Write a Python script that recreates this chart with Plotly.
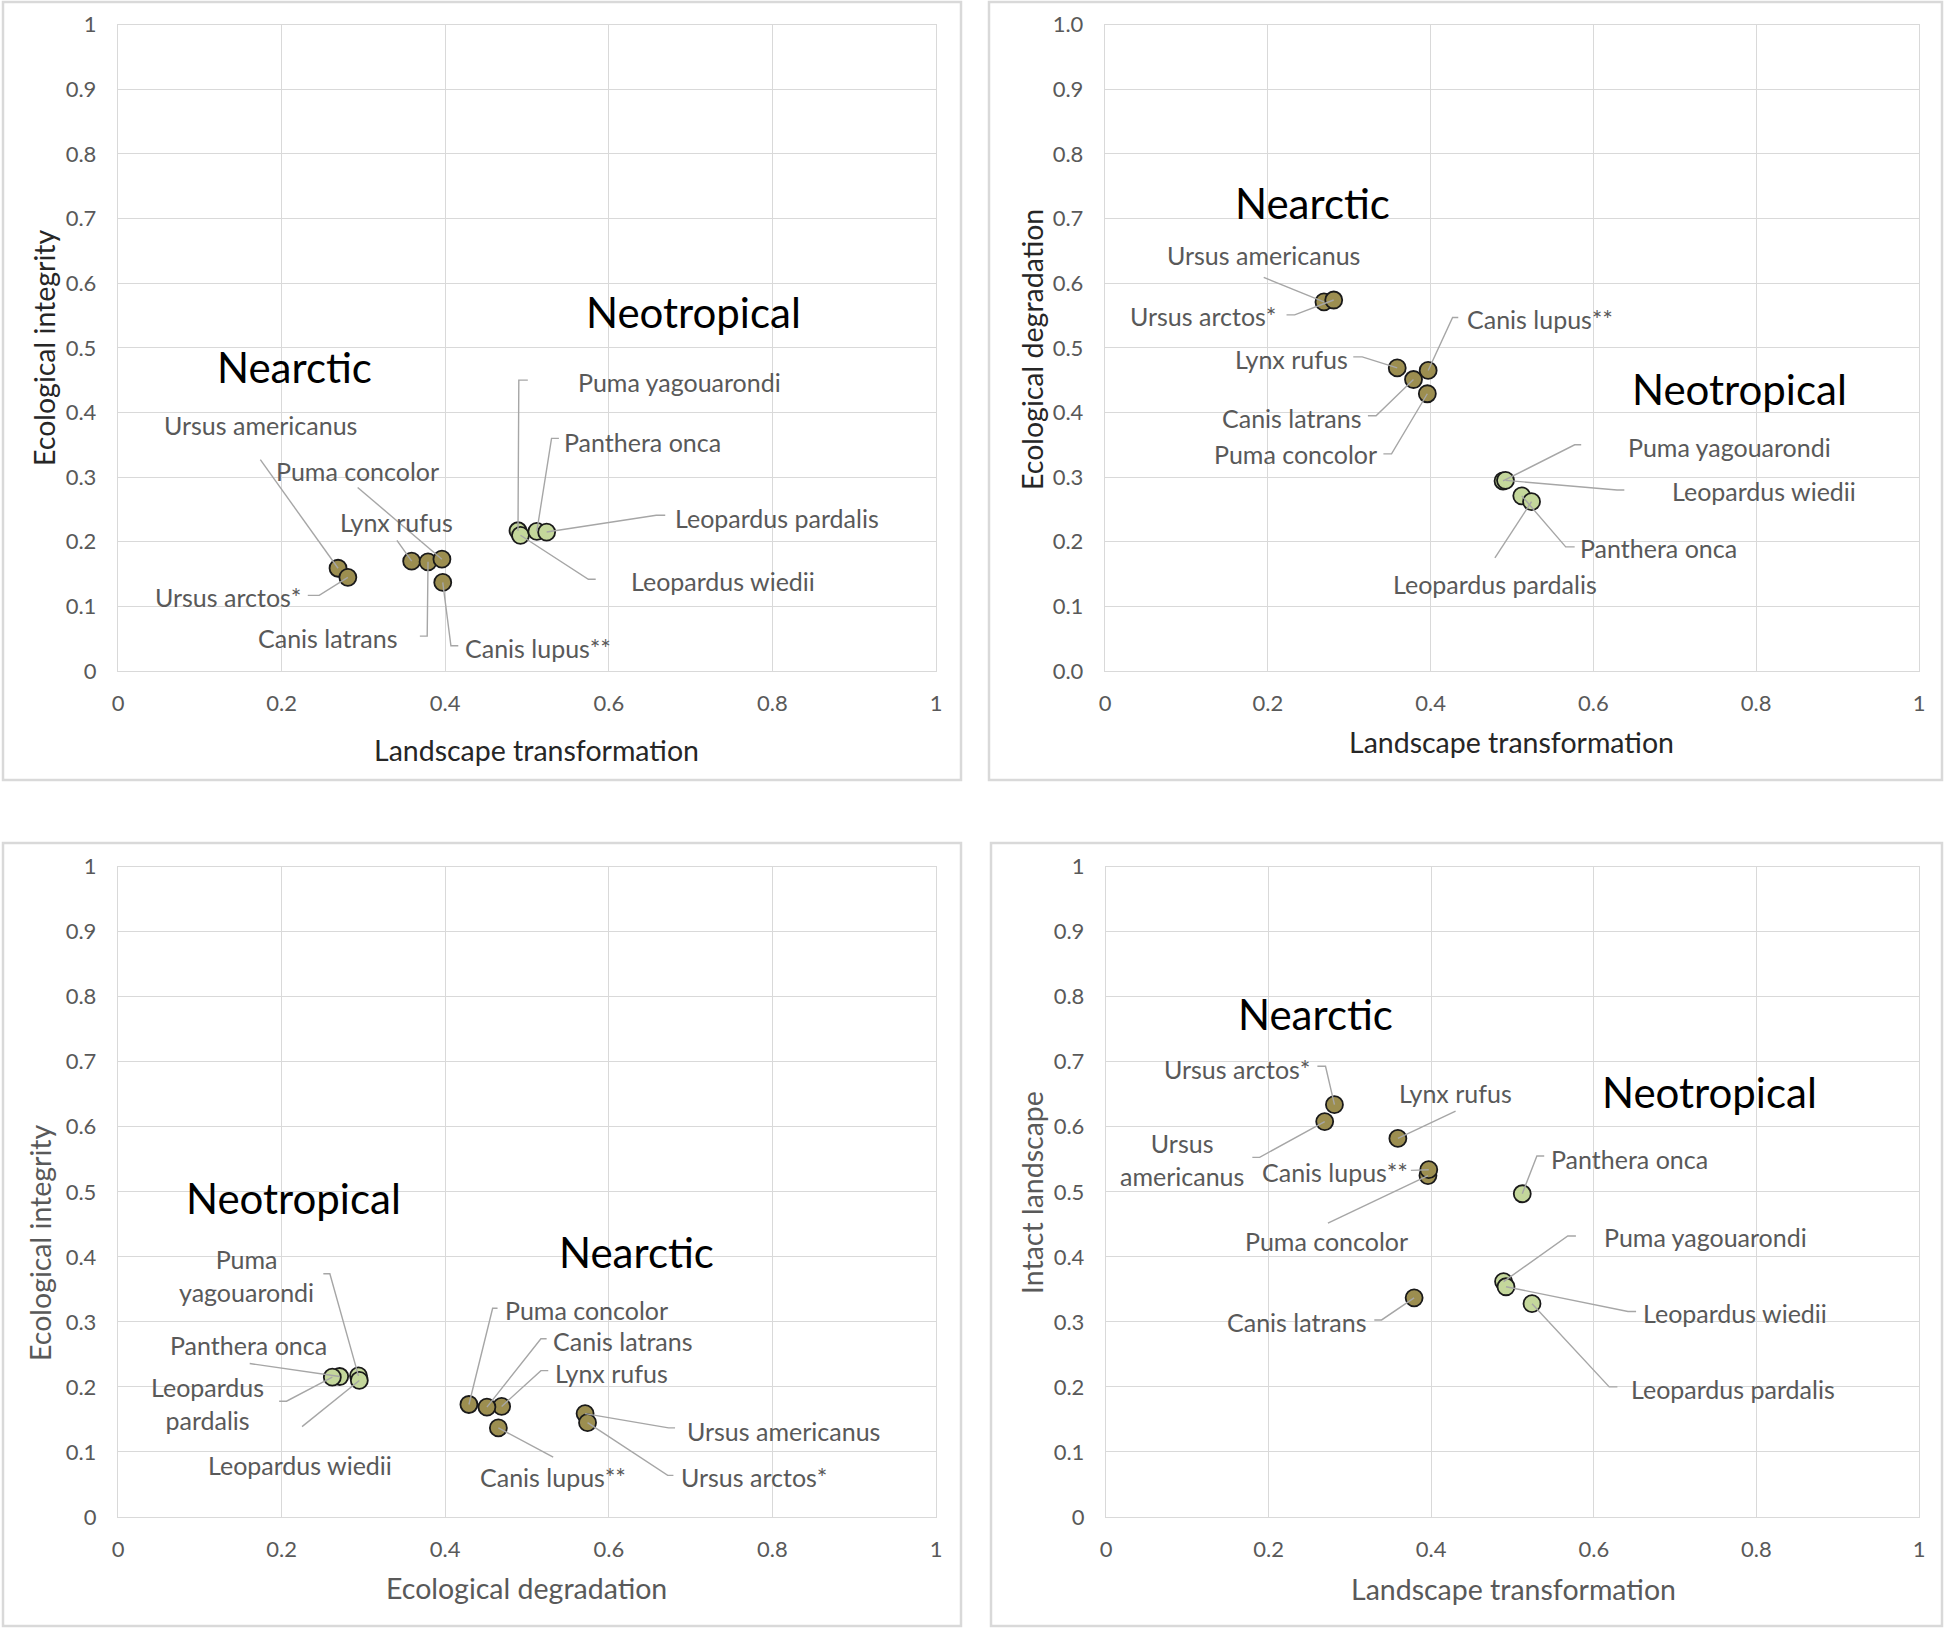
import plotly.graph_objects as go

# ---------------- data ----------------
species = ["Ursus americanus", "Ursus arctos*", "Lynx rufus", "Canis latrans",
           "Puma concolor", "Canis lupus**", "Puma yagouarondi", "Leopardus wiedii",
           "Panthera onca", "Leopardus pardalis"]
region = ["Nearctic"] * 6 + ["Neotropical"] * 4

landscape_transformation = [0.269, 0.281, 0.359, 0.379, 0.396, 0.397, 0.489, 0.492, 0.512, 0.524]
ecological_integrity = [0.159, 0.145, 0.170, 0.169, 0.173, 0.137, 0.217, 0.210, 0.216, 0.215]
ecological_degradation = [0.571, 0.574, 0.469, 0.451, 0.429, 0.465, 0.294, 0.295, 0.271, 0.262]
intact_landscape = [0.608, 0.634, 0.582, 0.337, 0.525, 0.534, 0.362, 0.354, 0.497, 0.328]

x_tick_values = [0, 0.2, 0.4, 0.6, 0.8, 1]
y_tick_values = [0, 0.1, 0.2, 0.3, 0.4, 0.5, 0.6, 0.7, 0.8, 0.9, 1]

# ---------------- styles / layout positions ----------------
W, H = 1946, 1629
FONT = "Lato, 'Open Sans', sans-serif"
GRAY_TXT = "#595959"
DARK_TXT = "#262626"
GRID = "#d9d9d9"
LEADER = "#a6a6a6"
FILL = {"Nearctic": "#9c8e50", "Neotropical": "#c4d79b"}

def px_x(p):
    return p / W

def px_y(p):
    return 1 - p / H

panels = [
    dict(xv=landscape_transformation, yv=ecological_integrity,
         xtitle="Landscape transformation", ytitle="Ecological integrity",
         title_color=DARK_TXT, yfmt="",
         dom_x=(118, 936), dom_y=(24.7, 671),
         border=(3, 2, 961, 780),
         xt_pos=(536, 750), yt_pos=(44, 348),
         regions={"Nearctic": (0.216, 0.471), "Neotropical": (0.703, 0.556)},
         names={},
         labels={
             "Ursus americanus": (0.174, 0.381, [(0.174, 0.327)]),
             "Ursus arctos*": (0.135, 0.114, [(0.232, 0.117), (0.246, 0.117)]),
             "Puma concolor": (0.293, 0.310, [(0.293, 0.284)]),
             "Lynx rufus": (0.341, 0.230, [(0.341, 0.202)]),
             "Canis latrans": (0.257, 0.051, [(0.369, 0.054), (0.378, 0.054)]),
             "Canis lupus**": (0.514, 0.035, [(0.416, 0.039), (0.407, 0.039)]),
             "Puma yagouarondi": (0.687, 0.447, [(0.501, 0.450), (0.490, 0.450)]),
             "Panthera onca": (0.641, 0.354, [(0.539, 0.360), (0.530, 0.360)]),
             "Leopardus pardalis": (0.806, 0.237, [(0.669, 0.241), (0.658, 0.241)]),
             "Leopardus wiedii": (0.740, 0.140, [(0.584, 0.142), (0.575, 0.142)]),
         }),
    dict(xv=landscape_transformation, yv=ecological_degradation,
         xtitle="Landscape transformation", ytitle="Ecological degradation",
         title_color=DARK_TXT, yfmt=".1f",
         dom_x=(1105, 1919), dom_y=(24.7, 671),
         border=(989, 2, 1942, 780),
         xt_pos=(1511, 742), yt_pos=(1032, 350),
         regions={"Nearctic": (0.255, 0.724), "Neotropical": (0.780, 0.436)},
         names={},
         labels={
             "Ursus americanus": (0.195, 0.644, [(0.195, 0.609)]),
             "Ursus arctos*": (0.120, 0.549, [(0.223, 0.551), (0.233, 0.551)]),
             "Canis lupus**": (0.534, 0.545, [(0.434, 0.547), (0.427, 0.547)]),
             "Lynx rufus": (0.229, 0.482, [(0.305, 0.486), (0.316, 0.486)]),
             "Canis latrans": (0.230, 0.391, [(0.323, 0.395), (0.333, 0.395)]),
             "Puma concolor": (0.234, 0.335, [(0.342, 0.336), (0.352, 0.336)]),
             "Puma yagouarondi": (0.767, 0.346, [(0.585, 0.350), (0.577, 0.350)]),
             "Leopardus wiedii": (0.810, 0.278, [(0.638, 0.280), (0.629, 0.280)]),
             "Panthera onca": (0.680, 0.191, [(0.577, 0.192), (0.566, 0.192)]),
             "Leopardus pardalis": (0.479, 0.135, [(0.479, 0.175)]),
         }),
    dict(xv=ecological_degradation, yv=ecological_integrity,
         xtitle="Ecological degradation", ytitle="Ecological integrity",
         title_color=GRAY_TXT, yfmt="",
         dom_x=(118, 936), dom_y=(866.6, 1517),
         border=(3, 843, 961, 1626),
         xt_pos=(526, 1588), yt_pos=(40, 1243),
         regions={"Neotropical": (0.214, 0.491), "Nearctic": (0.634, 0.407)},
         names={"Puma yagouarondi": "Puma<br>yagouarondi",
                "Leopardus pardalis": "Leopardus<br>pardalis"},
         labels={
             "Puma yagouarondi": (0.157, 0.371, [(0.251, 0.374), (0.259, 0.374)]),
             "Panthera onca": (0.159, 0.264, [(0.161, 0.236)]),
             "Leopardus pardalis": (0.110, 0.174, [(0.197, 0.178), (0.206, 0.178)]),
             "Leopardus wiedii": (0.223, 0.080, [(0.225, 0.139)]),
             "Puma concolor": (0.573, 0.318, [(0.464, 0.321), (0.458, 0.321)]),
             "Canis latrans": (0.617, 0.270, [(0.524, 0.274), (0.517, 0.274)]),
             "Lynx rufus": (0.603, 0.221, [(0.526, 0.225), (0.517, 0.225)]),
             "Ursus americanus": (0.813, 0.133, [(0.681, 0.137), (0.673, 0.137)]),
             "Ursus arctos*": (0.778, 0.061, [(0.679, 0.064), (0.672, 0.064)]),
             "Canis lupus**": (0.532, 0.061, [(0.532, 0.092)]),
         }),
    dict(xv=landscape_transformation, yv=intact_landscape,
         xtitle="Landscape transformation", ytitle="Intact landscape",
         title_color=GRAY_TXT, yfmt="",
         dom_x=(1106, 1919), dom_y=(866.6, 1517),
         border=(991, 843, 1942, 1626),
         xt_pos=(1513, 1589), yt_pos=(1032, 1193),
         regions={"Nearctic": (0.258, 0.773), "Neotropical": (0.742, 0.653)},
         names={"Ursus americanus": "Ursus<br>americanus"},
         labels={
             "Ursus arctos*": (0.161, 0.689, [(0.260, 0.693), (0.270, 0.693)]),
             "Lynx rufus": (0.430, 0.652, [(0.430, 0.624)]),
             "Ursus americanus": (0.093, 0.550, [(0.180, 0.553), (0.189, 0.553)]),
             "Canis lupus**": (0.282, 0.530, [(0.375, 0.533)]),
             "Puma concolor": (0.271, 0.424, [(0.273, 0.452)]),
             "Canis latrans": (0.235, 0.300, [(0.330, 0.303), (0.339, 0.303)]),
             "Panthera onca": (0.644, 0.551, [(0.539, 0.555), (0.530, 0.555)]),
             "Puma yagouarondi": (0.737, 0.431, [(0.578, 0.432), (0.568, 0.432)]),
             "Leopardus wiedii": (0.774, 0.314, [(0.652, 0.316), (0.642, 0.316)]),
             "Leopardus pardalis": (0.771, 0.197, [(0.629, 0.200), (0.619, 0.200)]),
         }),
]

fig = go.Figure()
annotations = []
shapes = []
layout_axes = {}

for i, p in enumerate(panels):
    sfx = "" if i == 0 else str(i + 1)
    xa, ya = "x" + sfx, "y" + sfx

    # markers per region
    for reg in ["Nearctic", "Neotropical"]:
        idx = [k for k, r in enumerate(region) if r == reg]
        fig.add_trace(go.Scatter(
            x=[p["xv"][k] for k in idx], y=[p["yv"][k] for k in idx],
            mode="markers", xaxis=xa, yaxis=ya, showlegend=False,
            hoverinfo="text", text=[species[k] for k in idx],
            marker=dict(size=17, color=FILL[reg], line=dict(color="#1a1a1a", width=1.8)),
        ))

    # leader lines (anchor near label -> data point)
    lx, ly = [], []
    for k, sp in enumerate(species):
        tx, ty, anchors = p["labels"][sp]
        for (ax_, ay_) in anchors:
            lx.append(ax_)
            ly.append(ay_)
        lx.append(p["xv"][k])
        ly.append(p["yv"][k])
        lx.append(None)
        ly.append(None)
    fig.add_trace(go.Scatter(x=lx, y=ly, mode="lines", xaxis=xa, yaxis=ya,
                             showlegend=False, hoverinfo="skip",
                             line=dict(color=LEADER, width=1.4)))

    # species labels
    for sp in species:
        tx, ty, _ = p["labels"][sp]
        annotations.append(dict(
            x=tx, y=ty, xref=xa, yref=ya, text=p["names"].get(sp, sp),
            showarrow=False, xanchor="center", yanchor="middle",
            font=dict(family=FONT, size=25, color=GRAY_TXT)))

    # region labels
    for reg, (rx, ry) in p["regions"].items():
        annotations.append(dict(
            x=rx, y=ry, xref=xa, yref=ya, text=reg, showarrow=False,
            xanchor="center", yanchor="middle",
            font=dict(family=FONT, size=42, color="#000000")))

    # axis titles
    annotations.append(dict(
        x=px_x(p["xt_pos"][0]), y=px_y(p["xt_pos"][1]), xref="paper", yref="paper",
        text=p["xtitle"], showarrow=False, xanchor="center", yanchor="middle",
        font=dict(family=FONT, size=28.5, color=p["title_color"])))
    annotations.append(dict(
        x=px_x(p["yt_pos"][0]), y=px_y(p["yt_pos"][1]), xref="paper", yref="paper",
        text=p["ytitle"], showarrow=False, xanchor="center", yanchor="middle",
        textangle=-90,
        font=dict(family=FONT, size=28.5, color=p["title_color"])))

    # panel frame
    bx0, by0, bx1, by1 = p["border"]
    shapes.append(dict(type="rect", xref="paper", yref="paper",
                       x0=px_x(bx0), x1=px_x(bx1), y0=px_y(by1), y1=px_y(by0),
                       line=dict(color=GRID, width=2.5), fillcolor="rgba(0,0,0,0)"))

    axis_common = dict(range=[0, 1], showgrid=True, gridcolor=GRID, gridwidth=1.4,
                       zeroline=False, showline=True, mirror=True, linecolor=GRID,
                       linewidth=1.4, ticks="", fixedrange=True,
                       tickfont=dict(family=FONT, size=22, color=GRAY_TXT))
    layout_axes["xaxis" + sfx] = dict(
        axis_common, domain=[px_x(p["dom_x"][0]), px_x(p["dom_x"][1])],
        tickmode="array", tickvals=x_tick_values, anchor=ya, ticklabelstandoff=12)
    layout_axes["yaxis" + sfx] = dict(
        axis_common, domain=[px_y(p["dom_y"][1]), px_y(p["dom_y"][0])],
        tickmode="array", tickvals=y_tick_values, tickformat=p["yfmt"],
        anchor=xa, ticklabelstandoff=16)

fig.update_layout(
    width=W, height=H, margin=dict(l=0, r=0, t=0, b=0, autoexpand=False),
    paper_bgcolor="white", plot_bgcolor="white",
    annotations=annotations, shapes=shapes, showlegend=False,
    font=dict(family=FONT),
    **layout_axes,
)

fig.write_html("out.html",
               config={"displayModeBar": False},
               post_script="document.body.style.margin='0';document.body.style.overflow='hidden';")
